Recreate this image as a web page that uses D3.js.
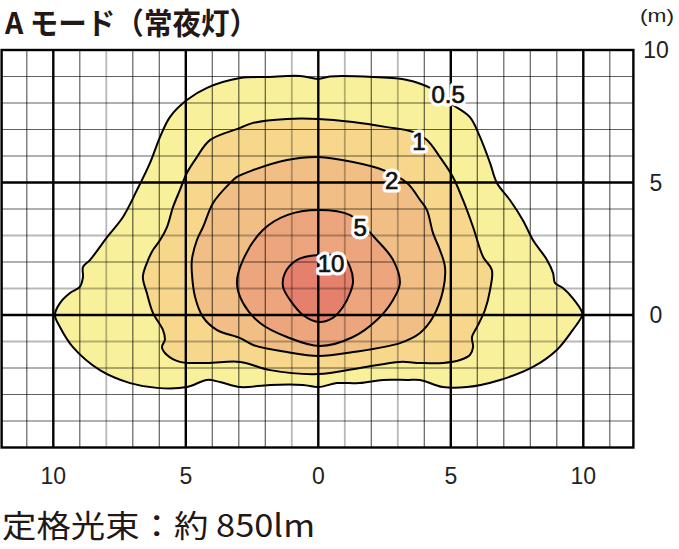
<!DOCTYPE html>
<html><head><meta charset="utf-8">
<script src="https://cdn.jsdelivr.net/npm/d3@7"></script>
<style>body{margin:0;background:#fff}svg{display:block}</style>
</head><body>
<svg id="c" width="679" height="549"></svg>
<script>
// ---- data (meters) ----
const levels = ["0.5", "1", "2", "5", "10"];
const fillColors = ["#f8f09a", "#f6d78c", "#f1bf85", "#eca57d", "#e5806d"];
const c05 = [[0,8.91],[0.44,9.0],[2.06,8.98],[3.35,8.87],[4.22,8.57],[4.97,8.0],[5.72,7.47],[6.1,6.72],[6.48,5.74],[6.74,4.98],[7.23,4.34],[7.72,3.58],[8.1,2.83],[8.63,2.08],[8.86,1.58],[8.93,1.21],[9.23,1.02],[9.6,0.64],[9.95,0.11],[9.95,-0.04],[9.6,-0.57],[9.0,-1.32],[8.1,-1.96],[6.86,-2.45],[5.61,-2.72],[4.7,-2.72],[3.84,-2.45],[3.35,-2.45],[2.44,-2.45],[1.57,-2.57],[0.7,-2.57],[0,-2.72],[-0.58,-2.64],[-1.82,-2.64],[-2.95,-2.72],[-3.71,-2.53],[-4.2,-2.45],[-4.96,-2.72],[-6.09,-2.75],[-7.1,-2.57],[-8.24,-2.08],[-9.26,-1.21],[-9.75,-0.45],[-9.94,0],[-9.75,0.45],[-9.37,0.83],[-9.0,1.06],[-8.88,1.43],[-8.88,1.81],[-8.61,2.08],[-7.97,2.94],[-7.37,3.7],[-6.84,4.72],[-6.35,5.74],[-5.97,6.72],[-5.6,7.47],[-4.96,8.11],[-4.2,8.57],[-2.95,8.94],[-1.94,8.98],[-0.69,9.02]];
const c1 = [[0,7.40],[1.31,7.28],[2.59,7.09],[3.57,6.91],[4.10,6.60],[4.59,5.96],[5.08,5.21],[5.46,4.34],[5.84,3.32],[6.22,2.19],[6.55,1.70],[6.48,0.94],[6.29,0.19],[5.99,-0.45],[5.80,-0.83],[5.84,-1.21],[5.72,-1.51],[5.35,-1.70],[4.71,-1.81],[3.84,-1.81],[3.08,-1.77],[1.57,-2.0],[0,-2.23],[-1.82,-2.08],[-2.95,-1.77],[-4.2,-1.81],[-5.22,-1.77],[-5.71,-1.51],[-5.90,-1.21],[-5.79,-0.94],[-5.86,-0.57],[-6.24,0.08],[-6.47,0.83],[-6.62,1.43],[-6.47,1.96],[-6.24,2.45],[-5.97,2.83],[-5.71,3.32],[-5.48,4.08],[-5.22,4.72],[-4.96,5.36],[-4.58,5.96],[-4.09,6.60],[-2.95,7.06],[-2.46,7.25],[-1.18,7.40]];
const c2 = [[0,5.96],[1.31,5.77],[2.44,5.47],[3.35,4.98],[3.84,4.34],[4.10,3.96],[4.33,3.09],[4.59,2.45],[4.78,1.81],[4.71,0.94],[4.33,-0.08],[3.84,-0.68],[3.08,-1.06],[1.31,-1.40],[0,-1.55],[-1.18,-1.40],[-2.46,-1.13],[-2.95,-0.87],[-3.82,-0.57],[-4.35,-0.08],[-4.65,0.68],[-4.77,1.58],[-4.77,2.08],[-4.58,2.83],[-4.35,3.32],[-3.97,4.23],[-3.33,4.98],[-3.07,5.21],[-2.46,5.47],[-1.18,5.85]];
const c5 = [[0,3.96],[1.20,3.77],[2.21,2.83],[2.82,2.08],[3.08,1.21],[2.82,0.57],[2.21,-0.19],[1.31,-0.83],[0.06,-1.17],[-1.18,-0.83],[-2.20,-0.30],[-2.84,0.45],[-3.07,1.21],[-2.84,2.08],[-2.09,3.21],[-1.18,3.77]];
const c10 = [[0,2.26],[0.93,2.19],[1.20,1.81],[1.31,1.25],[1.20,0.83],[0.93,0.30],[0.55,-0.11],[0,-0.26],[-0.58,0],[-1.07,0.57],[-1.33,1.06],[-1.26,1.58],[-0.80,2.08]];
const contours = [c05, c1, c2, c5, c10];
const labelPos = [[4.9,8.31],[3.8,6.55],[2.77,5.06],[1.58,3.3],[0.48,1.96]];
const xTicks = [-10, -5, 0, 5, 10];
const xTickLabels = ["10", "5", "0", "5", "10"];
const yTicks = [0, 5, 10];
const yTickLabels = ["0", "5", "10"];
const grayX = [-8, -1, 1, 3];
const grayY = [-1, 1, 3];
const title = "A モード（常夜灯）";
const unitLabel = "(m)";
const footer = "定格光束：約 850lm";

// ---- scales ----
const x = d3.scaleLinear().domain([-10, 10]).range([53.3, 583.3]);
const y = d3.scaleLinear().domain([0, 10]).range([315, 50]);
const xMin = -11.95, xMax = 11.89, yMin = -5, yMax = 10;

const svg = d3.select("#c");
const line = d3.line().x(d => x(d[0])).y(d => y(d[1])).curve(d3.curveCatmullRomClosed.alpha(0.5));

// fills
svg.append("g").selectAll("path").data(contours).join("path")
  .attr("d", d => line(d)).attr("fill", (d, i) => fillColors[i]).attr("stroke", "none");

// grid
const g = svg.append("g");
const vx = d3.range(-11, 12);
const hy = d3.range(-4, 10);
const isThickX = v => xTicks.includes(v);
const isThickY = v => yTicks.includes(v);
g.selectAll("line.v").data(vx.filter(v => !isThickX(v))).join("line")
  .attr("x1", d => x(d)).attr("x2", d => x(d)).attr("y1", y(yMax)).attr("y2", y(yMin))
  .attr("stroke", "#000")
  .attr("stroke-opacity", d => grayX.includes(d) ? 0.28 : 0.62)
  .attr("stroke-width", d => grayX.includes(d) ? 1.8 : 1.2);
g.selectAll("line.h").data(hy.filter(v => !isThickY(v))).join("line")
  .attr("y1", d => y(d)).attr("y2", d => y(d)).attr("x1", x(xMin)).attr("x2", x(xMax))
  .attr("stroke", "#000")
  .attr("stroke-opacity", d => grayY.includes(d) ? 0.28 : 0.62)
  .attr("stroke-width", d => grayY.includes(d) ? 1.8 : 1.2);
g.selectAll("line.tv").data(xTicks).join("line")
  .attr("x1", d => x(d)).attr("x2", d => x(d)).attr("y1", y(yMax)).attr("y2", y(yMin))
  .attr("stroke", "#000").attr("stroke-width", 2.4);
g.selectAll("line.th").data(yTicks.filter(v => v !== yMax)).join("line")
  .attr("y1", d => y(d)).attr("y2", d => y(d)).attr("x1", x(xMin)).attr("x2", x(xMax))
  .attr("stroke", "#000").attr("stroke-width", 2.4);
g.append("rect").attr("x", x(xMin)).attr("y", y(yMax))
  .attr("width", x(xMax) - x(xMin)).attr("height", y(yMin) - y(yMax))
  .attr("fill", "none").attr("stroke", "#000").attr("stroke-width", 2.4);

// contour strokes
svg.append("g").selectAll("path").data(contours).join("path")
  .attr("d", d => line(d)).attr("fill", "none").attr("stroke", "#000").attr("stroke-width", 2);

// contour labels
const lab = svg.append("g").attr("font-family", "'Liberation Sans', Arial, sans-serif")
  .attr("font-size", 24).attr("text-anchor", "middle");
lab.selectAll("text.h").data(levels).join("text")
  .attr("x", (d, i) => x(labelPos[i][0])).attr("y", (d, i) => y(labelPos[i][1]) + 8.5)
  .attr("fill", "#fff").attr("stroke", "#fff").attr("stroke-width", 7).attr("stroke-linejoin", "round")
  .text(d => d);
lab.selectAll("text.t").data(levels).join("text")
  .attr("x", (d, i) => x(labelPos[i][0])).attr("y", (d, i) => y(labelPos[i][1]) + 8.5)
  .attr("fill", "#111").attr("stroke", "#111").attr("stroke-width", 0.7).text(d => d);

// axis tick labels
const tl = svg.append("g").attr("font-family", "'Liberation Sans', Arial, sans-serif")
  .attr("font-size", 23).attr("fill", "#222");
tl.selectAll("text.x").data(xTicks).join("text")
  .attr("x", d => x(d)).attr("y", 484).attr("text-anchor", "middle")
  .text((d, i) => xTickLabels[i]);
tl.selectAll("text.y").data(yTicks).join("text")
  .attr("x", 656).attr("y", d => y(d) + 8).attr("text-anchor", "middle")
  .text((d, i) => yTickLabels[i]);

// title, unit, footer
svg.append("text").attr("x", 5).attr("y", 34)
  .attr("font-family", "'Noto Sans CJK JP', sans-serif").attr("font-weight", "bold")
  .attr("font-size", 30).attr("fill", "#231815")
  .attr("textLength", 253).attr("lengthAdjust", "spacingAndGlyphs").text(title);
svg.append("text").attr("x", 674).attr("y", 22).attr("text-anchor", "end")
  .attr("font-family", "'Liberation Sans', Arial, sans-serif").attr("font-size", 19).attr("fill", "#222")
  .attr("textLength", 34).attr("lengthAdjust", "spacingAndGlyphs")
  .text(unitLabel);
svg.append("text").attr("x", 2).attr("y", 537)
  .attr("font-family", "'Noto Sans CJK JP', sans-serif").attr("font-size", 31).attr("fill", "#231815")
  .attr("textLength", 313).attr("lengthAdjust", "spacingAndGlyphs").text(footer);
</script>
</body></html>
